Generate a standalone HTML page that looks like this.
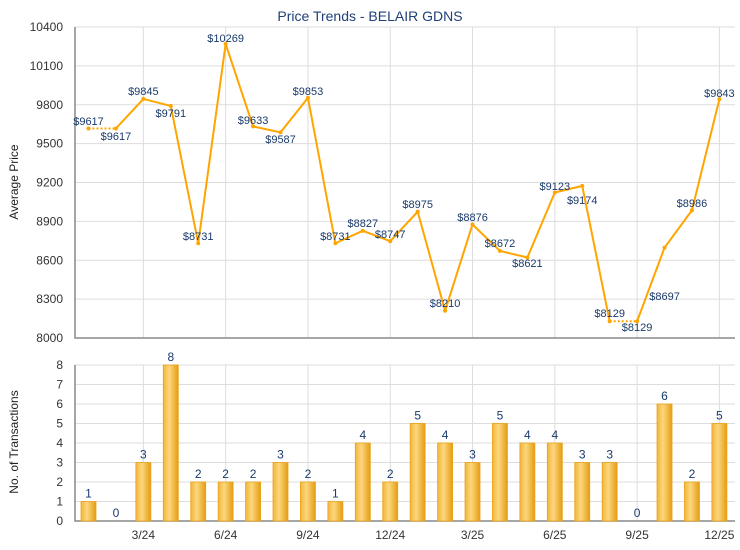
<!DOCTYPE html>
<html><head><meta charset="utf-8"><style>
body{margin:0;background:#fff;}
svg{display:block;font-family:"Liberation Sans",Arial,sans-serif;}
</style></head><body>
<svg id="s" width="740" height="550" xmlns="http://www.w3.org/2000/svg">
<defs>
<linearGradient id="bg" x1="0" x2="1" y1="0" y2="0">
<stop offset="0" stop-color="#f2b53a"/><stop offset="0.4" stop-color="#fcd77e"/><stop offset="1" stop-color="#e49d12"/>
</linearGradient>
</defs>
<text x="370" y="21" text-anchor="middle" font-size="14" fill="#1f3f78">Price Trends - BELAIR GDNS</text>
<text transform="translate(18,182) rotate(-90)" text-anchor="middle" font-size="12" fill="#222">Average Price</text>
<text transform="translate(18,442) rotate(-90)" text-anchor="middle" font-size="12" fill="#222">No. of Transactions</text>
<g id="g"></g>
</svg>
<script>
var v=[9617,9617,9845,9791,8731,10269,9633,9587,9853,8731,8827,8747,8975,8210,8876,8672,8621,9123,9174,8129,8129,8697,8986,9843];
var c=[1,0,3,8,2,2,2,3,2,1,4,2,5,4,3,5,4,4,3,3,0,6,2,5];
var ly=[121,136,91,113,236,38,120,139,91,236,223,234,204,303,217,243,263,186,200,313,327,296,203,93];
var L=75,R=735,T=27,B=338,T2=365,B2=521;
function X(i){return 88.5+i*27.43;}
function Y(p){return B-(p-8000)/2400*(B-T);}
function Y2(n){return B2-n*(B2-T2)/8;}
var h='';
// grid top
for(var k=0;k<=8;k++){var y=Y(8000+k*300);h+='<line x1="'+L+'" x2="'+R+'" y1="'+y+'" y2="'+y+'" stroke="#ddd"/>';h+='<text x="'+(L-12)+'" y="'+(y+4)+'" text-anchor="end" font-size="12" fill="#333">'+(8000+k*300)+'</text>';}
for(var k=0;k<=8;k++){var y=Y2(k);h+='<line x1="'+L+'" x2="'+R+'" y1="'+y+'" y2="'+y+'" stroke="#ddd"/>';h+='<text x="'+(L-12)+'" y="'+(y+4)+'" text-anchor="end" font-size="12" fill="#333">'+k+'</text>';}
var xl=['3/24','6/24','9/24','12/24','3/25','6/25','9/25','12/25'];
for(var j=0;j<8;j++){var i=2+3*j,x=X(i);h+='<line x1="'+x+'" x2="'+x+'" y1="'+T+'" y2="'+B+'" stroke="#ddd"/><line x1="'+x+'" x2="'+x+'" y1="'+T2+'" y2="'+B2+'" stroke="#ddd"/>';h+='<text x="'+x+'" y="539" text-anchor="middle" font-size="12" fill="#333">'+xl[j]+'</text>';}
h+='<polyline points="'+L+','+T+' '+L+','+B+' '+R+','+B+'" fill="none" stroke="#888" stroke-width="1.5"/>';
h+='<polyline points="'+L+','+T2+' '+L+','+B2+' '+R+','+B2+'" fill="none" stroke="#888" stroke-width="1.5"/>';
for(var i=0;i<23;i++){var d=(v[i]==v[i+1]);h+='<line x1="'+X(i)+'" y1="'+Y(v[i])+'" x2="'+X(i+1)+'" y2="'+Y(v[i+1])+'" stroke="#ffa500" stroke-width="2"'+(d?' stroke-dasharray="2,2"':'')+'/>';}
for(var i=0;i<24;i++){h+='<circle cx="'+X(i)+'" cy="'+Y(v[i])+'" r="2" fill="#ffa500"/>';h+='<text x="'+X(i)+'" y="'+(ly[i]+4)+'" text-anchor="middle" font-size="11" fill="#1a3a6b">$'+v[i]+'</text>';}
for(var i=0;i<24;i++){var x=X(i),y=Y2(c[i]);if(c[i]>0)h+='<rect x="'+(x-7.5)+'" y="'+y+'" width="15" height="'+(B2-y)+'" fill="url(#bg)" stroke="#e8a21a" stroke-width="0.8"/>';h+='<text x="'+x+'" y="'+(y-4)+'" text-anchor="middle" font-size="12" fill="#1a3a6b">'+c[i]+'</text>';}
document.getElementById('g').innerHTML=h;
</script>
</body></html>
